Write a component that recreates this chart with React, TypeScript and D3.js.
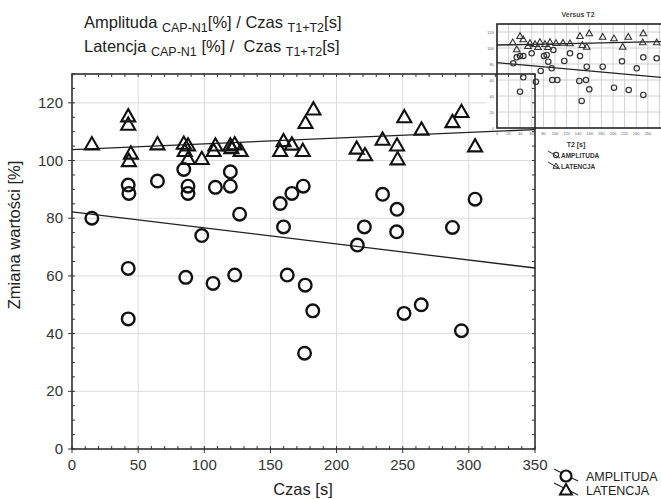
import React, { useEffect, useRef } from "react";
import * as d3 from "d3";

// main chart: T1+T2 time [s] vs change [%]
const amplitudaCzas = [15, 42.5, 43, 42.5, 42.5, 64.6, 84.5, 87.7, 87.7, 86, 98.1, 106.6, 108.4, 119.7, 119.7, 123, 126.7, 157.4, 159.9, 162.7, 166.2, 174.8, 176.3, 182, 175.8, 215.7, 221, 234.8, 245.7, 245.4, 251, 264, 287.6, 294.4, 304.7];
const amplitudaZmiana = [80, 91.5, 88.6, 62.6, 45.1, 92.9, 96.9, 91.1, 88.6, 59.5, 74, 57.4, 90.7, 96.1, 91.1, 60.3, 81.4, 85.1, 77, 60.3, 88.6, 91.1, 56.8, 47.9, 33.2, 70.7, 77, 88.3, 83.1, 75.3, 47, 50, 76.8, 41, 86.6];
const latencjaCzas = [15, 42.5, 42.5, 44.5, 43, 64.6, 84.5, 87.7, 85.2, 87.7, 98.1, 108.4, 107.1, 119.7, 123, 120.5, 127.5, 159.9, 157.4, 166.2, 174.5, 176.5, 182.5, 215.2, 221.5, 234.8, 245.7, 246.1, 251.2, 264.2, 287.6, 294.4, 304.7];
const latencjaZmiana = [105.7, 115.4, 112.5, 102.5, 99.9, 105.7, 105.9, 105.3, 103.4, 100.6, 100.6, 105.3, 103.4, 105.3, 105.7, 104.4, 103.4, 106.8, 103.4, 105.6, 103.4, 113.1, 117.8, 104.2, 101.9, 107.3, 105.3, 100.5, 115.1, 110.8, 113.4, 116.9, 105];
// [intercept, slope]
const trendAmplituda = [82.2, -0.0556];
const trendLatencja = [103.8, 0.0198];
const xTicks = [0, 50, 100, 150, 200, 250, 300, 350];
const yTicks = [0, 20, 40, 60, 80, 100, 120];
const legendLabels = ["AMPLITUDA", "LATENCJA"];

// inset: versus T2
const insetAmplitudaT2 = [28.1, 34, 39.7, 45.3, 59.8, 39.7, 45.3, 67.2, 75.3, 81, 85.7, 88.4, 94.3, 95.3, 104, 97.1, 116, 125.9, 143.1, 141.9, 146, 153.4, 154.7, 159.1, 182.2, 201.7, 215.5, 227.1, 240.9, 252.2, 252.2, 275.3];
const insetAmplitudaZmiana = [80.9, 88.4, 90, 90, 93.4, 45.4, 63.4, 57.9, 71.3, 90, 91.3, 82.9, 74.6, 60, 60, 97.5, 83.8, 93.4, 90, 58.8, 33.8, 60, 76.6, 48.4, 76.6, 50.4, 83.4, 47.5, 74.6, 88.4, 41.3, 87.1];
const insetLatencjaT2 = [27.1, 39.7, 45.3, 34, 56.9, 65.5, 74.1, 82.8, 91.4, 101.7, 53.4, 70.7, 87.9, 113.8, 125.9, 143.1, 147.1, 154.7, 159.1, 182.2, 201.7, 216.7, 226.4, 252.2, 251.2, 275.3];
const insetLatencjaZmiana = [107.1, 115, 110.9, 98.4, 106.3, 105, 107.5, 105, 107.5, 106.3, 102.5, 101.3, 101.3, 106.6, 105.9, 115, 103.8, 101.6, 118.4, 114.1, 112.1, 101.6, 114.1, 118.4, 107.1, 107.1];
const insetTrendAmplituda = [81.6, -0.0648];
const insetTrendLatencja = [103.75, 0.0148];
const insetXTicks = [0, 20, 40, 60, 80, 100, 120, 140, 160, 180, 200, 220, 240, 260, 280, 300];
const insetYTicks = [0, 20, 40, 60, 80, 100, 120];

const font = "'Liberation Sans', Arial, sans-serif";

function triPath(s) {
  return `M0,${-s}L${s},${s * 0.75}L${-s},${s * 0.75}Z`;
}

export default function App() {
  const ref = useRef(null);

  useEffect(() => {
    const svg = d3.select(ref.current);
    svg.selectAll("*").remove();

    const x = d3.scaleLinear().domain([0, 350]).range([72, 535]);
    const y = d3.scaleLinear().domain([0, 130]).range([449, 74]);

    // grid
    svg
      .selectAll("gx")
      .data(xTicks.slice(1, -1))
      .enter()
      .append("line")
      .attr("x1", (d) => x(d))
      .attr("x2", (d) => x(d))
      .attr("y1", y(130))
      .attr("y2", y(0))
      .attr("stroke", "#dcdcdc");
    svg
      .selectAll("gy")
      .data(yTicks.slice(1))
      .enter()
      .append("line")
      .attr("x1", x(0))
      .attr("x2", x(350))
      .attr("y1", (d) => y(d))
      .attr("y2", (d) => y(d))
      .attr("stroke", "#dcdcdc");

    // trend lines
    const trend = (c) => [0, 350].map((t) => [x(t), y(c[0] + c[1] * t)]);
    [trendAmplituda, trendLatencja].forEach((c) => {
      svg
        .append("path")
        .attr("d", d3.line()(trend(c)))
        .attr("stroke", "#222")
        .attr("stroke-width", 1.3)
        .attr("fill", "none");
    });

    // points
    svg
      .selectAll("amp")
      .data(amplitudaCzas)
      .enter()
      .append("circle")
      .attr("cx", (d) => x(d))
      .attr("cy", (d, i) => y(amplitudaZmiana[i]))
      .attr("r", 6.3)
      .attr("fill", "none")
      .attr("stroke", "#111")
      .attr("stroke-width", 2.4);
    svg
      .selectAll("lat")
      .data(latencjaCzas)
      .enter()
      .append("path")
      .attr("d", triPath(7))
      .attr("transform", (d, i) => `translate(${x(d)},${y(latencjaZmiana[i])})`)
      .attr("fill", "none")
      .attr("stroke", "#111")
      .attr("stroke-width", 2.1);

    // inset (pasted small chart)
    const ix = d3.scaleLinear().domain([0, 300]).range([497, 671]);
    const iy = d3.scaleLinear().domain([0, 130]).range([128, 24]);
    const inset = svg.append("g");
    inset.append("rect").attr("x", 486).attr("y", 0).attr("width", 175).attr("height", 126).attr("fill", "#fff");
    inset
      .selectAll("igx")
      .data(insetXTicks.slice(1))
      .enter()
      .append("line")
      .attr("x1", (d) => ix(d))
      .attr("x2", (d) => ix(d))
      .attr("y1", iy(130))
      .attr("y2", iy(0))
      .attr("stroke", "#d0d0d0");
    inset
      .selectAll("igy")
      .data(insetYTicks.slice(1))
      .enter()
      .append("line")
      .attr("x1", ix(0))
      .attr("x2", 661)
      .attr("y1", (d) => iy(d))
      .attr("y2", (d) => iy(d))
      .attr("stroke", "#d0d0d0");
    const itrend = (c) => [0, 300].map((t) => [ix(t), iy(c[0] + c[1] * t)]);
    [insetTrendAmplituda, insetTrendLatencja].forEach((c) => {
      inset
        .append("path")
        .attr("d", d3.line()(itrend(c)))
        .attr("stroke", "#222")
        .attr("stroke-width", 1.3)
        .attr("fill", "none");
    });
    inset
      .selectAll("iamp")
      .data(insetAmplitudaT2)
      .enter()
      .append("circle")
      .attr("cx", (d) => ix(d))
      .attr("cy", (d, i) => iy(insetAmplitudaZmiana[i]))
      .attr("r", 2.7)
      .attr("fill", "none")
      .attr("stroke", "#333")
      .attr("stroke-width", 1.2);
    inset
      .selectAll("ilat")
      .data(insetLatencjaT2)
      .enter()
      .append("path")
      .attr("d", triPath(3.3))
      .attr("transform", (d, i) => `translate(${ix(d)},${iy(insetLatencjaZmiana[i])})`)
      .attr("fill", "none")
      .attr("stroke", "#333")
      .attr("stroke-width", 1.1);
    inset
      .append("rect")
      .attr("x", ix(0))
      .attr("y", iy(130))
      .attr("width", 200)
      .attr("height", iy(0) - iy(130))
      .attr("fill", "none")
      .attr("stroke", "#222")
      .attr("stroke-width", 1.6);
    inset
      .selectAll("iyl")
      .data(insetYTicks)
      .enter()
      .append("text")
      .attr("x", 494)
      .attr("y", (d) => iy(d) + 1.5)
      .attr("text-anchor", "end")
      .attr("font-size", 4)
      .attr("fill", "#666")
      .text((d) => d);
    inset
      .selectAll("ixl")
      .data(insetXTicks.filter((d) => ix(d) < 654))
      .enter()
      .append("text")
      .attr("x", (d) => ix(d))
      .attr("y", 135)
      .attr("text-anchor", "middle")
      .attr("font-size", 4)
      .attr("fill", "#666")
      .text((d) => d);
    inset
      .append("text")
      .attr("x", 578)
      .attr("y", 17)
      .attr("text-anchor", "middle")
      .attr("font-size", 7)
      .attr("font-weight", "bold")
      .attr("fill", "#444")
      .text("Versus T2");
    inset
      .append("text")
      .attr("x", 576)
      .attr("y", 147)
      .attr("text-anchor", "middle")
      .attr("font-size", 7)
      .attr("font-weight", "bold")
      .attr("fill", "#333")
      .text("T2 [s]");
    legendLabels.forEach((lab, i) => {
      const ly = 155 + i * 11;
      inset.append("line").attr("x1", 548).attr("y1", ly - 4).attr("x2", 560).attr("y2", ly + 3).attr("stroke", "#333");
      if (i === 0) {
        inset.append("circle").attr("cx", 556).attr("cy", ly).attr("r", 2.6).attr("fill", "none").attr("stroke", "#333").attr("stroke-width", 1.1);
      } else {
        inset.append("path").attr("d", triPath(3)).attr("transform", `translate(556,${ly})`).attr("fill", "none").attr("stroke", "#333");
      }
      inset
        .append("text")
        .attr("x", 561)
        .attr("y", ly + 3)
        .attr("font-size", 6.5)
        .attr("font-weight", "bold")
        .attr("fill", "#333")
        .text(lab);
    });

    // main frame and ticks
    svg
      .append("rect")
      .attr("x", x(0))
      .attr("y", y(130))
      .attr("width", x(350) - x(0))
      .attr("height", y(0) - y(130))
      .attr("fill", "none")
      .attr("stroke", "#222")
      .attr("stroke-width", 1.5);
    const minorX = d3.range(0, 351, 10);
    const minorY = d3.range(0, 131, 5);
    const tk = svg.append("g").attr("stroke", "#333").attr("stroke-width", 1);
    minorX.forEach((v) => {
      tk.append("line").attr("x1", x(v)).attr("x2", x(v)).attr("y1", y(0)).attr("y2", y(0) - 3);
      tk.append("line").attr("x1", x(v)).attr("x2", x(v)).attr("y1", y(130)).attr("y2", y(130) + 3);
    });
    minorY.forEach((v) => {
      tk.append("line").attr("x1", x(0)).attr("x2", x(0) + 3).attr("y1", y(v)).attr("y2", y(v));
      tk.append("line").attr("x1", x(350)).attr("x2", x(350) - 3).attr("y1", y(v)).attr("y2", y(v));
    });
    xTicks.forEach((v) => {
      tk.append("line").attr("x1", x(v)).attr("x2", x(v)).attr("y1", y(0)).attr("y2", y(0) + 4);
    });
    yTicks.forEach((v) => {
      tk.append("line").attr("x1", x(0) - 4).attr("x2", x(0)).attr("y1", y(v)).attr("y2", y(v));
    });

    // tick labels
    svg
      .selectAll("xl")
      .data(xTicks)
      .enter()
      .append("text")
      .attr("x", (d) => x(d))
      .attr("y", 470)
      .attr("text-anchor", "middle")
      .attr("font-size", 15)
      .attr("fill", "#333")
      .text((d) => d);
    svg
      .selectAll("yl")
      .data(yTicks)
      .enter()
      .append("text")
      .attr("x", 63)
      .attr("y", (d) => y(d) + 5)
      .attr("text-anchor", "end")
      .attr("font-size", 15)
      .attr("fill", "#333")
      .text((d) => d);

    // bottom legend
    legendLabels.forEach((lab, i) => {
      const ly = 476 + i * 14;
      svg.append("line").attr("x1", 554).attr("y1", ly - 7).attr("x2", 578).attr("y2", ly + 5).attr("stroke", "#222").attr("stroke-width", 1.2);
      if (i === 0) {
        svg.append("circle").attr("cx", 566).attr("cy", ly).attr("r", 5.5).attr("fill", "#fff").attr("stroke", "#111").attr("stroke-width", 2.2);
      } else {
        svg.append("path").attr("d", triPath(6)).attr("transform", `translate(566,${ly})`).attr("fill", "#fff").attr("stroke", "#111").attr("stroke-width", 2);
      }
      svg
        .append("text")
        .attr("x", 586)
        .attr("y", ly + 5)
        .attr("font-size", 12.5)
        .attr("fill", "#222")
        .text(lab);
    });
  }, []);

  const sub = { fontSize: 12.5 };
  return (
    <svg
      width={661}
      height={499}
      style={{ position: "absolute", left: 0, top: 0, background: "#fff", fontFamily: font }}
    >
      <g fill="#222" fontFamily={font} fontSize={16.5}>
        <text x={84} y={28}>
          {"Amplituda "}
          <tspan style={sub} dy={4}>CAP-N1</tspan>
          <tspan dy={-4}>{"[%] / Czas "}</tspan>
          <tspan style={sub} dy={4}>T1+T2</tspan>
          <tspan dy={-4}>[s]</tspan>
        </text>
        <text x={84} y={52}>
          {"Latencja "}
          <tspan style={sub} dy={4}>CAP-N1</tspan>
          <tspan dy={-4}>{"\u00a0[%] /\u00a0\u00a0Czas "}</tspan>
          <tspan style={sub} dy={4}>T1+T2</tspan>
          <tspan dy={-4}>[s]</tspan>
        </text>
        <text x={20} y={235} transform="rotate(-90,20,235)" textAnchor="middle">
          Zmiana wartości [%]
        </text>
        <text x={303} y={495} textAnchor="middle">
          Czas [s]
        </text>
      </g>
      <g ref={ref} fontFamily={font} />
    </svg>
  );
}
